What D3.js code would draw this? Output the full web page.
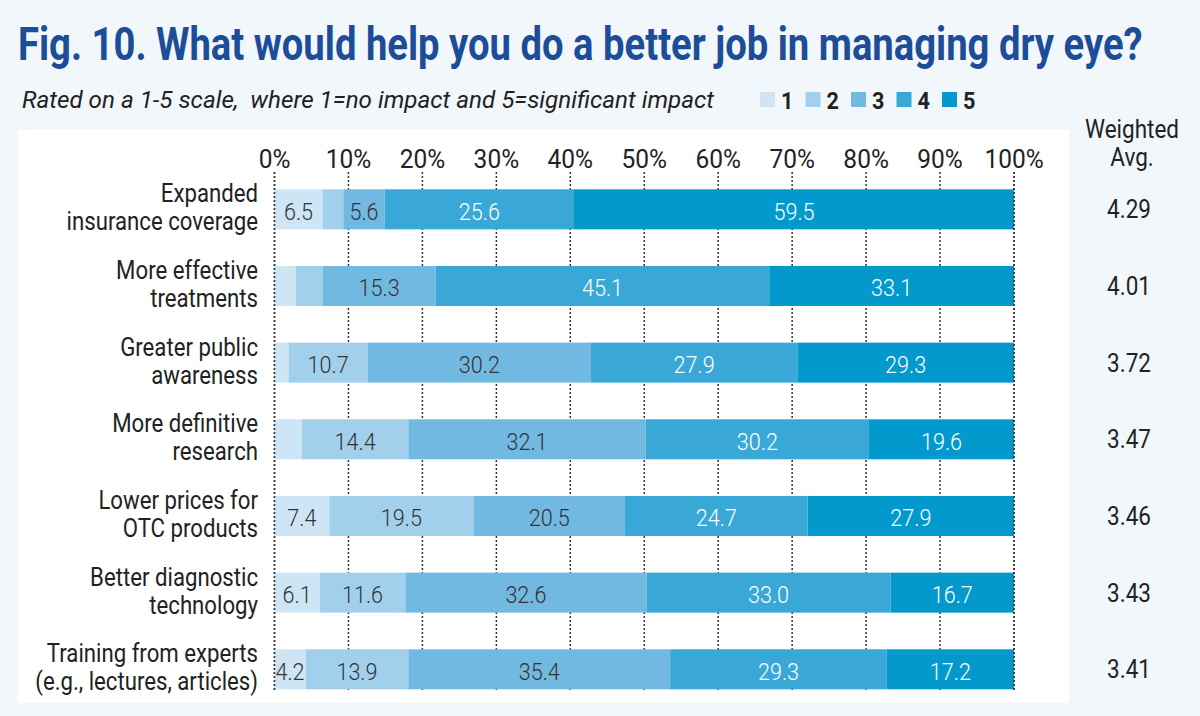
<!DOCTYPE html>
<html>
<head>
<meta charset="utf-8">
<script src="https://cdn.jsdelivr.net/npm/d3@7"></script>
<style>
  html, body { margin: 0; padding: 0; background: #f2f7fc; }
  svg { display: block; }
  text { font-family: Roboto, "Noto Sans", sans-serif; white-space: pre; }
</style>
</head>
<body>
<script>
// ---- data ----
const categories = [
  ["Expanded", "insurance coverage"],
  ["More effective", "treatments"],
  ["Greater public", "awareness"],
  ["More definitive", "research"],
  ["Lower prices for", "OTC products"],
  ["Better diagnostic", "technology"],
  ["Training from experts", "(e.g., lectures, articles)"]
];
const seriesNames = ["1", "2", "3", "4", "5"];
const s1 = [6.5, 2.9, 1.9, 3.7, 7.4, 6.1, 4.2];
const s2 = [2.8, 3.6, 10.7, 14.4, 19.5, 11.6, 13.9];
const s3 = [5.6, 15.3, 30.2, 32.1, 20.5, 32.6, 35.4];
const s4 = [25.6, 45.1, 27.9, 30.2, 24.7, 33.0, 29.3];
const s5 = [59.5, 33.1, 29.3, 19.6, 27.9, 16.7, 17.2];
const weightedAvg = [4.29, 4.01, 3.72, 3.47, 3.46, 3.43, 3.41];
const tickValues = [0, 10, 20, 30, 40, 50, 60, 70, 80, 90, 100];
const titleText = "Fig. 10. What would help you do a better job in managing dry eye?";
const subtitleText = "Rated on a 1-5 scale,  where 1=no impact and 5=significant impact";

const colors = ["#cde5f5", "#a2d0ec", "#72b9e1", "#39a8d7", "#0399cd"];
const labelColors = ["#333333", "#333333", "#333333", "#ffffff", "#ffffff"];

const W = 1200, H = 716;
const K = 0.87; // condensed factor

const svg = d3.select("body").append("svg").attr("width", W).attr("height", H);
svg.append("rect").attr("width", W).attr("height", H).attr("fill", "#f2f7fc");
// white panel
svg.append("rect").attr("x", 18).attr("y", 130).attr("width", 1051).attr("height", 573).attr("fill", "#ffffff");

function ctext(g, x, y, str, opts) {
  return g.append("text")
    .attr("transform", `translate(${x},${y}) scale(${opts.k || K},1)`)
    .attr("text-anchor", opts.anchor || "start")
    .attr("font-size", opts.size)
    .attr("font-weight", opts.weight || 400)
    .attr("font-style", opts.style || "normal")
    .attr("fill", opts.fill || "#222")
    .text(str);
}

// title, fit to width
const title = svg.append("text")
  .attr("font-size", 47).attr("font-weight", 700).attr("fill", "#1c4d99")
  .text(titleText);
const tw = title.node().getComputedTextLength();
title.attr("transform", `translate(18,60) scale(${1125 / tw},1)`);

// subtitle
const sub = svg.append("text")
  .attr("font-size", 24).attr("font-style", "italic").attr("fill", "#222")
  .text(subtitleText);
const sw = sub.node().getComputedTextLength();
sub.attr("transform", `translate(22,108) scale(${692 / sw},1)`);

// legend
const legend = svg.append("g");
seriesNames.forEach((n, i) => {
  const lx = 760 + i * 45.5;
  legend.append("rect").attr("x", lx).attr("y", 92).attr("width", 15).attr("height", 15).attr("fill", colors[i]);
  ctext(legend, lx + 21, 108.5, n, { size: 24, weight: 700, fill: "#222", k: 0.9 });
});

// scales
const x = d3.scaleLinear().domain([0, 100]).range([274.5, 1014]);
const yC = d3.scalePoint().domain(d3.range(categories.length)).range([209.3, 669.3]);
const barH = 40;

// gridlines
const grid = svg.append("g");
grid.selectAll("line").data(tickValues).join("line")
  .attr("x1", d => x(d)).attr("x2", d => x(d))
  .attr("y1", 172).attr("y2", 690)
  .attr("stroke", "#333").attr("stroke-width", 1.5).attr("stroke-dasharray", "2,2");

// tick labels
tickValues.forEach(v => ctext(svg, x(v), 168, v + "%", { size: 25, anchor: "middle", fill: "#222", k: 0.98 }));

// stacked bars
const rows = categories.map((c, i) => ({ idx: i, vals: [s1[i], s2[i], s3[i], s4[i], s5[i]] }));
const bars = svg.append("g");
const labels = svg.append("g");
rows.forEach(r => {
  let cum = 0;
  r.vals.forEach((v, j) => {
    const x0 = x(cum), x1 = x(cum + v);
    bars.append("rect")
      .attr("x", x0).attr("y", yC(r.idx) - barH / 2)
      .attr("width", x1 - x0).attr("height", barH)
      .attr("fill", colors[j]);
    if (v >= 4) {
      ctext(labels, (x0 + x1) / 2, yC(r.idx) + 10.5, v.toFixed(1), { size: 24, weight: 300, anchor: "middle", fill: labelColors[j], k: 0.9 });
    }
    cum += v;
  });
});
// 0% and 100% lines on top
[0, 100].forEach(v => {
  svg.append("line").attr("x1", x(v)).attr("x2", x(v)).attr("y1", 172).attr("y2", 690)
    .attr("stroke", "#333").attr("stroke-width", 1.5).attr("stroke-dasharray", "2,2");
});

// category labels
categories.forEach((lines, i) => {
  const c = yC(i);
  ctext(svg, 258, c - 7, lines[0], { size: 25.5, anchor: "end", fill: "#222" });
  ctext(svg, 258, c + 21, lines[1], { size: 25.5, anchor: "end", fill: "#222" });
});

// weighted avg header and values
ctext(svg, 1132, 138, "Weighted", { size: 25, anchor: "middle", fill: "#222", k: 0.9 });
ctext(svg, 1132, 166, "Avg.", { size: 25, anchor: "middle", fill: "#222", k: 0.9 });
weightedAvg.forEach((v, i) => {
  ctext(svg, 1129, yC(i) + 9, v.toFixed(2), { size: 25, anchor: "middle", fill: "#222", k: 0.9 });
});
</script>
</body>
</html>
